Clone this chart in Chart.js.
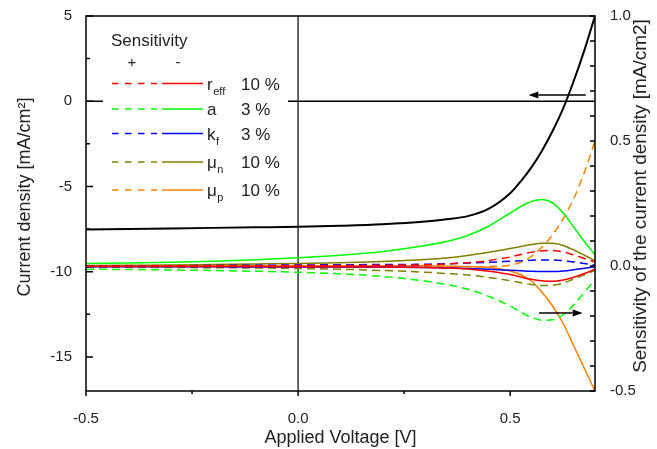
<!DOCTYPE html>
<html>
<head>
<meta charset="utf-8">
<script src="https://cdn.jsdelivr.net/npm/chart.js@4.4.1/dist/chart.umd.min.js"></script>
<style>
  html, body { margin: 0; padding: 0; background: #fff; }
  canvas { display: block; }
</style>
</head>
<body>
<canvas id="jvChart" width="657" height="449"></canvas>
<script>
// --- DATA ---
// applied voltage [V]
const V = [-0.5, -0.4, -0.3, -0.2, -0.1, 0, 0.1, 0.2, 0.3, 0.35, 0.4, 0.45, 0.5, 0.525, 0.55, 0.575, 0.6, 0.625, 0.65, 0.675, 0.7];

// current density [mA/cm2] (left axis)
const jv = [-7.52, -7.49, -7.46, -7.43, -7.40, -7.37, -7.31, -7.22, -7.06, -6.93, -6.74, -6.30, -5.40, -4.70, -3.88, -2.90, -1.75, -0.42, 1.20, 3.00, 5.00];

// sensitivities (right axis), "+" = dashed, "-" = solid
const reffPlus  = [0.000, 0.000, 0.001, 0.001, 0.001, 0.002, 0.002, 0.003, 0.005, 0.008, 0.013, 0.022, 0.036, 0.046, 0.055, 0.061, 0.062, 0.056, 0.044, 0.030, 0.016];
const reffMinus = [-0.002, -0.002, -0.002, -0.002, -0.002, -0.003, -0.003, -0.004, -0.006, -0.008, -0.012, -0.021, -0.034, -0.044, -0.053, -0.059, -0.061, -0.056, -0.045, -0.030, -0.013];
const aPlus     = [-0.013, -0.014, -0.016, -0.018, -0.021, -0.025, -0.031, -0.042, -0.060, -0.074, -0.093, -0.122, -0.160, -0.185, -0.205, -0.217, -0.215, -0.195, -0.155, -0.105, -0.055];
const aMinus    = [0.010, 0.012, 0.015, 0.019, 0.025, 0.033, 0.043, 0.058, 0.082, 0.098, 0.122, 0.160, 0.212, 0.238, 0.258, 0.266, 0.252, 0.212, 0.155, 0.098, 0.045];
const kfPlus    = [0.000, 0.001, 0.001, 0.002, 0.003, 0.004, 0.005, 0.006, 0.007, 0.009, 0.012, 0.015, 0.019, 0.021, 0.023, 0.024, 0.024, 0.021, 0.016, 0.010, 0.004];
const kfMinus   = [-0.003, -0.003, -0.003, -0.003, -0.004, -0.004, -0.004, -0.005, -0.006, -0.007, -0.010, -0.013, -0.017, -0.019, -0.021, -0.022, -0.022, -0.020, -0.015, -0.009, -0.003];
const muNPlus   = [-0.005, -0.005, -0.006, -0.007, -0.008, -0.010, -0.013, -0.018, -0.025, -0.030, -0.036, -0.046, -0.059, -0.067, -0.074, -0.078, -0.077, -0.068, -0.052, -0.035, -0.018];
const muNMinus  = [0.002, 0.003, 0.004, 0.006, 0.008, 0.010, 0.013, 0.018, 0.026, 0.032, 0.042, 0.055, 0.070, 0.078, 0.086, 0.091, 0.091, 0.082, 0.064, 0.043, 0.021];
const muPPlus   = [-0.003, -0.003, -0.003, -0.003, -0.003, -0.003, -0.003, -0.003, -0.003, -0.003, -0.003, -0.002, 0.003, 0.015, 0.038, 0.076, 0.125, 0.190, 0.270, 0.375, 0.500];
const muPMinus  = [0.000, 0.000, 0.001, 0.001, 0.001, 0.001, 0.001, 0.001, 0.001, 0.000, -0.002, -0.006, -0.020, -0.035, -0.060, -0.105, -0.160, -0.230, -0.320, -0.410, -0.500];

// legend entries
const legendNames = ['r', 'a', 'k', 'μ', 'μ'];
const legendSubs = ['eff', '', 'f', 'n', 'p'];
const legendPercents = ['10 %', '3 %', '3 %', '10 %', '10 %'];
const seriesColors = ['#ff0000', '#00ff00', '#0000ff', '#808000', '#ff8000'];
const plusSeries = [reffPlus, aPlus, kfPlus, muNPlus, muPPlus];
const minusSeries = [reffMinus, aMinus, kfMinus, muNMinus, muPMinus];

// tick values
const xTicks = [-0.5, 0, 0.5];
const xMinorTicks = [-0.25, 0.25];
const leftTicks = [5, 0, -5, -10, -15];
const leftMinorTicks = [2.5, -2.5, -7.5, -12.5];
const rightTicks = [1.0, 0.5, 0.0, -0.5];
const rightMinorTicks = [0.9, 0.8, 0.7, 0.6, 0.4, 0.3, 0.2, 0.1, -0.1, -0.2, -0.3, -0.4];

// arrows in data units
const arrowLeft = { from: 0.678, to: 0.543, y: 0.37 };     // left axis
const arrowRight = { from: 0.568, to: 0.671, y: -0.188 };  // right axis

const FONT = '"Liberation Sans", Arial, Helvetica, sans-serif';
const TEXT = '#222';

function toPoints(ys) {
    return V.map((v, i) => ({ x: v, y: ys[i] }));
}

const datasets = [];
for (let i = 0; i < 5; i++) {
    datasets.push({
        data: toPoints(plusSeries[i]),
        yAxisID: 'y2',
        borderColor: seriesColors[i],
        borderWidth: 1.5,
        borderDash: [8, 5],
        cubicInterpolationMode: 'monotone',
        pointRadius: 0,
        fill: false
    });
    datasets.push({
        data: toPoints(minusSeries[i]),
        yAxisID: 'y2',
        borderColor: seriesColors[i],
        borderWidth: 1.5,
        cubicInterpolationMode: 'monotone',
        pointRadius: 0,
        fill: false
    });
}
datasets.push({
    data: toPoints(jv),
    yAxisID: 'y',
    borderColor: '#000',
    borderWidth: 2,
    cubicInterpolationMode: 'monotone',
    pointRadius: 0,
    fill: false
});

function drawArrow(ctx, x1, x2, y) {
    const dir = x2 > x1 ? 1 : -1;
    const head = 10;
    ctx.beginPath();
    ctx.moveTo(x1, y);
    ctx.lineTo(x2 - dir * head, y);
    ctx.stroke();
    ctx.beginPath();
    ctx.moveTo(x2, y);
    ctx.lineTo(x2 - dir * head, y - 3.5);
    ctx.lineTo(x2 - dir * head, y + 3.5);
    ctx.closePath();
    ctx.fill();
}

function rotatedText(ctx, text, cx, cy, size) {
    ctx.save();
    ctx.translate(cx, cy);
    ctx.rotate(-Math.PI / 2);
    ctx.textAlign = 'center';
    ctx.textBaseline = 'middle';
    ctx.font = size + 'px ' + FONT;
    ctx.fillStyle = TEXT;
    ctx.fillText(text, 0, 0);
    ctx.restore();
}

const decorPlugin = {
    id: 'decor',
    beforeDatasetsDraw(chart) {
        const { ctx, chartArea: a, scales: { x, y } } = chart;
        ctx.save();
        ctx.lineWidth = 1.5;
        ctx.strokeStyle = '#333';
        const x0 = x.getPixelForValue(0);
        const y0 = y.getPixelForValue(0);
        ctx.beginPath();
        ctx.moveTo(x0, a.top);
        ctx.lineTo(x0, a.bottom);
        ctx.stroke();
        ctx.strokeStyle = '#000';
        ctx.beginPath();
        ctx.moveTo(a.left, y0);
        ctx.lineTo(a.right, y0);
        ctx.stroke();
        ctx.restore();
    },
    afterDatasetsDraw(chart) {
        const { ctx, chartArea: a, scales: { x, y, y2 } } = chart;
        ctx.save();

        // frame
        ctx.strokeStyle = '#000';
        ctx.lineWidth = 1.5;
        ctx.strokeRect(a.left, a.top, a.right - a.left, a.bottom - a.top);

        // ticks (left and right point inwards, bottom points out)
        ctx.beginPath();
        leftTicks.forEach(v => { const p = y.getPixelForValue(v); ctx.moveTo(a.left, p); ctx.lineTo(a.left + 7, p); });
        leftMinorTicks.forEach(v => { const p = y.getPixelForValue(v); ctx.moveTo(a.left, p); ctx.lineTo(a.left + 4, p); });
        rightTicks.concat(rightMinorTicks).forEach(v => { const p = y2.getPixelForValue(v); ctx.moveTo(a.right, p); ctx.lineTo(a.right - 5, p); });
        xTicks.forEach(v => { const p = x.getPixelForValue(v); ctx.moveTo(p, a.bottom); ctx.lineTo(p, a.bottom + 5); });
        xMinorTicks.forEach(v => { const p = x.getPixelForValue(v); ctx.moveTo(p, a.bottom); ctx.lineTo(p, a.bottom + 3); });
        ctx.stroke();

        // arrows
        ctx.fillStyle = '#000';
        ctx.lineWidth = 1.5;
        drawArrow(ctx, x.getPixelForValue(arrowLeft.from), x.getPixelForValue(arrowLeft.to), y.getPixelForValue(arrowLeft.y));
        drawArrow(ctx, x.getPixelForValue(arrowRight.from), x.getPixelForValue(arrowRight.to), y2.getPixelForValue(arrowRight.y));

        // legend box
        ctx.fillStyle = '#fff';
        ctx.fillRect(103, 22, 185, 183);
        ctx.fillStyle = TEXT;
        ctx.textBaseline = 'middle';
        ctx.textAlign = 'left';
        ctx.font = '17px ' + FONT;
        ctx.fillText('Sensitivity', 111, 41);
        ctx.font = '15px ' + FONT;
        ctx.textAlign = 'center';
        ctx.fillText('+', 132, 63);
        ctx.fillText('-', 178, 63);

        const rowY = [83.5, 109, 133.5, 162, 190];
        for (let i = 0; i < 5; i++) {
            const ry = rowY[i];
            ctx.strokeStyle = seriesColors[i];
            ctx.lineWidth = 1.5;
            ctx.setLineDash([6.5, 6.5]);
            ctx.beginPath();
            ctx.moveTo(112, ry);
            ctx.lineTo(157, ry);
            ctx.stroke();
            ctx.setLineDash([]);
            ctx.beginPath();
            ctx.moveTo(162, ry);
            ctx.lineTo(203, ry);
            ctx.stroke();

            ctx.fillStyle = TEXT;
            ctx.textAlign = 'left';
            ctx.font = '17px ' + FONT;
            ctx.fillText(legendNames[i], 207, ry + 1.5);
            const w = ctx.measureText(legendNames[i]).width;
            if (legendSubs[i]) {
                ctx.font = '11px ' + FONT;
                ctx.fillText(legendSubs[i], 207 + w + 0.5, ry + 8);
            }
            ctx.font = '17px ' + FONT;
            ctx.fillText(legendPercents[i], 241, ry + 1.5);
        }

        // axis titles (both read bottom to top)
        rotatedText(ctx, 'Current density [mA/cm²]', 25, 197, 18);
        rotatedText(ctx, 'Sensitivity of the current density [mA/cm2]', 641, 196, 19);

        ctx.restore();
    }
};

const ctx = document.getElementById('jvChart').getContext('2d');
new Chart(ctx, {
    type: 'line',
    data: { datasets: datasets },
    options: {
        responsive: false,
        animation: false,
        layout: { padding: { top: 13, left: 0, right: 0, bottom: 0 } },
        plugins: {
            legend: { display: false },
            tooltip: { enabled: false }
        },
        elements: { point: { radius: 0 } },
        scales: {
            x: {
                type: 'linear',
                min: -0.5,
                max: 0.7,
                afterBuildTicks: s => { s.ticks = xTicks.map(v => ({ value: v })); },
                afterFit: s => { s.height = 58; },
                grid: { display: false },
                border: { display: false },
                ticks: {
                    callback: v => Number(v).toFixed(1),
                    font: { family: FONT, size: 15 },
                    color: TEXT,
                    padding: 11,
                    maxRotation: 0,
                    autoSkip: false
                },
                title: {
                    display: true,
                    text: 'Applied Voltage [V]',
                    font: { family: FONT, size: 18 },
                    color: TEXT,
                    padding: { top: 0, bottom: 0 }
                }
            },
            y: {
                position: 'left',
                min: -17,
                max: 5,
                afterBuildTicks: s => { s.ticks = leftTicks.map(v => ({ value: v })); },
                afterFit: s => { s.width = 86; },
                grid: { display: false },
                border: { display: false },
                ticks: {
                    callback: v => String(v),
                    font: { family: FONT, size: 15 },
                    color: TEXT,
                    padding: 6
                },
                title: { display: false }
            },
            y2: {
                position: 'right',
                min: -0.5,
                max: 1.0,
                afterBuildTicks: s => { s.ticks = rightTicks.map(v => ({ value: v })); },
                afterFit: s => { s.width = 62; },
                grid: { display: false },
                border: { display: false },
                ticks: {
                    callback: v => Number(v).toFixed(1),
                    font: { family: FONT, size: 15 },
                    color: TEXT,
                    padding: 7
                },
                title: { display: false }
            }
        }
    },
    plugins: [decorPlugin]
});
</script>
</body>
</html>
